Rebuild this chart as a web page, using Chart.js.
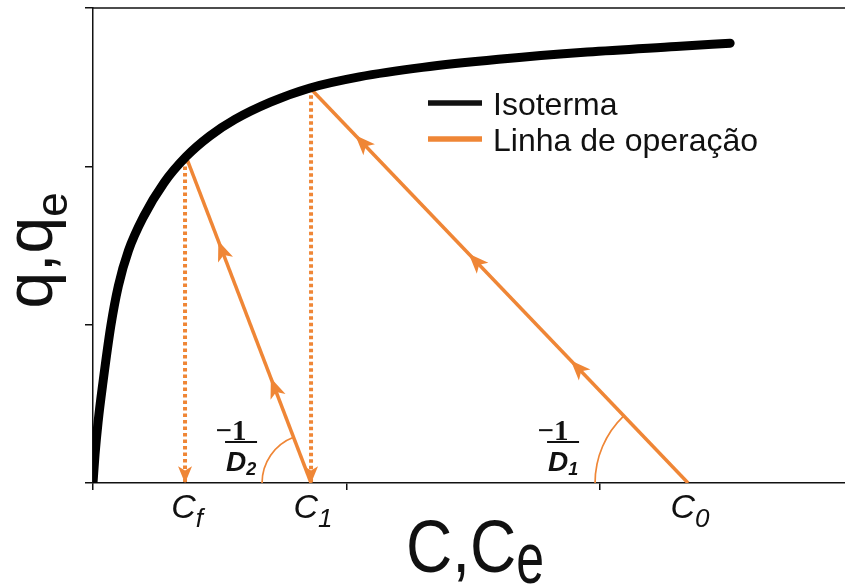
<!DOCTYPE html>
<html>
<head>
<meta charset="utf-8">
<script src="https://cdn.jsdelivr.net/npm/chart.js@4.4.0/dist/chart.umd.min.js"></script>
<style>
  html, body { margin: 0; padding: 0; background: #fff; }
  #wrap { width: 845px; height: 586px; }
</style>
</head>
<body>
<div id="wrap"><canvas id="chart" width="845" height="586"></canvas></div>
<script>
// ── DATA ────────────────────────────────────────────────────────────────────
// isotherm q_e(C_e)
const isoC = [0, 0.008, 0.02, 0.04, 0.07, 0.1, 0.14, 0.2, 0.28, 0.367, 0.46, 0.56, 0.7, 0.856, 1.05, 1.3, 1.6, 1.95, 2.3, 2.513];
const isoQ = [0, 0.18, 0.384, 0.644, 0.989, 1.244, 1.468, 1.684, 1.896, 2.061, 2.191, 2.296, 2.405, 2.495, 2.565, 2.625, 2.676, 2.722, 2.757, 2.778];

// concentrations marked under the axis
const concNames = ['C', 'C', 'C'];
const concSubs  = ['f', '1', '0'];
const concVals  = [0.363, 0.86, 2.347];

// operating lines: from the axis up to the isotherm
const op1C = [2.347, 0.856];
const op1Q = [0, 2.495];
const op2C = [0.86, 0.367];
const op2Q = [0, 2.061];

// dotted drops from the isotherm to the axis
const drop1C = [0.86, 0.86];
const drop1Q = [2.49, 0];
const drop2C = [0.363, 0.363];
const drop2Q = [2.04, 0];

// where the arrowheads sit along each operating line (fraction from the axis)
const op1Arrows = [0.29, 0.56, 0.86];
const op2Arrows = [0.29, 0.71];

const xTicks = [0, 1, 2];
const yTicks = [0, 1, 2, 3];
const legendNames = ['Isoterma', 'Linha de operação'];

const ORANGE = '#ef8636';
const INK = '#111';

const pts = (xs, ys) => xs.map((v, i) => ({ x: v, y: ys[i] }));

// ── HELPERS ─────────────────────────────────────────────────────────────────

/** Notched arrowhead centred at (cx, cy) pointing along (ux, uy). */
function head(ctx, cx, cy, ux, uy, len, half) {
  const nx = -uy, ny = ux;
  ctx.beginPath();
  ctx.moveTo(cx + ux * len * 0.55, cy + uy * len * 0.55);
  ctx.lineTo(cx - ux * len * 0.45 + nx * half, cy - uy * len * 0.45 + ny * half);
  ctx.lineTo(cx - ux * len * 0.2, cy - uy * len * 0.2);
  ctx.lineTo(cx - ux * len * 0.45 - nx * half, cy - uy * len * 0.45 - ny * half);
  ctx.closePath();
  ctx.fill();
}

/** Text with a subscript, group centred on cx. */
function subText(ctx, main, sub, cx, base, mainFont, subFont, drop) {
  ctx.font = mainFont;
  const w1 = ctx.measureText(main).width;
  ctx.font = subFont;
  const w2 = ctx.measureText(sub).width;
  const x0 = cx - (w1 + w2) / 2;
  ctx.textAlign = 'left';
  ctx.textBaseline = 'alphabetic';
  ctx.font = mainFont;
  ctx.fillText(main, x0, base);
  ctx.font = subFont;
  ctx.fillText(sub, x0 + w1, base + drop);
}

/** The −1/D fraction next to an angle arc. */
function fraction(ctx, cx, sub) {
  ctx.fillStyle = INK;
  ctx.textAlign = 'center';
  ctx.textBaseline = 'alphabetic';
  ctx.font = "bold 29px 'Liberation Serif', 'DejaVu Serif', serif";
  ctx.fillText('\u22121', cx - 10, 440);
  ctx.strokeStyle = INK;
  ctx.lineWidth = 1.8;
  ctx.beginPath();
  ctx.moveTo(cx - 16, 442);
  ctx.lineTo(cx + 16, 442);
  ctx.stroke();
  subText(ctx, 'D', sub, cx, 471,
    "italic bold 28px 'Liberation Sans', Arial, sans-serif",
    "italic bold 18px 'Liberation Sans', Arial, sans-serif", 4);
}

const decor = {
  id: 'decor',
  afterDatasetsDraw(chart) {
    const { ctx, chartArea: a, scales: { x, y } } = chart;
    ctx.save();

    // top spine
    ctx.strokeStyle = INK;
    ctx.lineWidth = 1.5;
    ctx.beginPath();
    ctx.moveTo(a.left, a.top);
    ctx.lineTo(a.right, a.top);
    ctx.stroke();

    // arrowheads along operating lines
    ctx.fillStyle = ORANGE;
    const along = (xs, ys, ts) => {
      const x0 = x.getPixelForValue(xs[0]), y0 = y.getPixelForValue(ys[0]);
      const x1 = x.getPixelForValue(xs[1]), y1 = y.getPixelForValue(ys[1]);
      const L = Math.hypot(x1 - x0, y1 - y0);
      const ux = (x1 - x0) / L, uy = (y1 - y0) / L;
      ts.forEach(t => head(ctx, x0 + (x1 - x0) * t, y0 + (y1 - y0) * t, ux, uy, 20, 8));
      return Math.atan2(y1 - y0, x1 - x0);
    };
    const ang1 = along(op1C, op1Q, op1Arrows);
    const ang2 = along(op2C, op2Q, op2Arrows);

    // arrowheads at the foot of the dotted drops
    [drop1C[1], drop2C[1]].forEach(c => {
      const tipX = x.getPixelForValue(c), tipY = y.getPixelForValue(0);
      head(ctx, tipX, tipY - 9, 0, 1, 17, 7);
    });

    // angle arcs
    ctx.strokeStyle = ORANGE;
    ctx.lineWidth = 1.7;
    const arc = (c, r, ang) => {
      const end = ang < 0 ? ang + 2 * Math.PI : ang;
      ctx.beginPath();
      ctx.arc(x.getPixelForValue(c), y.getPixelForValue(0), r, Math.PI, end);
      ctx.stroke();
    };
    arc(op2C[0], 49, ang2);
    arc(op1C[0], 93, ang1);

    fraction(ctx, x.getPixelForValue(op2C[0]) - 70, '2');
    fraction(ctx, x.getPixelForValue(op1C[0]) - 125, '1');

    // concentration labels under the axis
    ctx.fillStyle = INK;
    concVals.forEach((c, i) => {
      subText(ctx, concNames[i], concSubs[i], x.getPixelForValue(c) + 2, 518,
        "italic 34px 'Liberation Sans', Arial, sans-serif",
        "italic 26px 'Liberation Sans', Arial, sans-serif", 9);
    });

    // axis titles
    ctx.font = "64px 'Liberation Sans', Arial, sans-serif";
    const wC = ctx.measureText('C,C').width;
    ctx.font = "50px 'Liberation Sans', Arial, sans-serif";
    const wE = ctx.measureText('e').width;
    const xs = (a.left + a.right) / 2 + 6 - (wC + wE) / 2;
    ctx.save();
    ctx.translate(xs, 572);
    ctx.scale(1, 1.17);
    ctx.font = "64px 'Liberation Sans', Arial, sans-serif";
    ctx.textAlign = 'left';
    ctx.fillText('C,C', 0, 0);
    ctx.restore();
    ctx.save();
    ctx.translate(xs + wC, 583);
    ctx.scale(1, 1.45);
    ctx.font = "50px 'Liberation Sans', Arial, sans-serif";
    ctx.fillText('e', 0, 0);
    ctx.restore();

    ctx.save();
    ctx.translate(52, (a.top + a.bottom) / 2 + 5);
    ctx.rotate(-Math.PI / 2);
    ctx.font = "66px 'Liberation Sans', Arial, sans-serif";
    const wQ = ctx.measureText('q,q').width;
    ctx.font = "44px 'Liberation Sans', Arial, sans-serif";
    const wQe = ctx.measureText('e').width;
    ctx.textAlign = 'left';
    ctx.font = "66px 'Liberation Sans', Arial, sans-serif";
    ctx.fillText('q,q', -(wQ + wQe) / 2, 0);
    ctx.font = "44px 'Liberation Sans', Arial, sans-serif";
    ctx.fillText('e', -(wQ + wQe) / 2 + wQ, 15);
    ctx.restore();

    // legend
    const lx = a.left + 335, ly = a.top + 95;
    [INK, ORANGE].forEach((col, i) => {
      const yy = ly + i * 36;
      ctx.strokeStyle = col;
      ctx.lineWidth = 5.5;
      ctx.beginPath();
      ctx.moveTo(lx, yy);
      ctx.lineTo(lx + 54, yy);
      ctx.stroke();
      ctx.fillStyle = INK;
      ctx.font = "32px 'Liberation Sans', Arial, sans-serif";
      ctx.textAlign = 'left';
      ctx.textBaseline = 'alphabetic';
      ctx.fillText(legendNames[i], lx + 65, yy + 12);
    });

    ctx.restore();
  }
};

const orangeLine = (data) => ({
  data, borderColor: ORANGE, borderWidth: 3.5, pointRadius: 0, fill: false,
});
const dotted = (data) => ({
  data, borderColor: ORANGE, borderWidth: 4, borderDash: [3.5, 3], pointRadius: 0, fill: false,
});

new Chart(document.getElementById('chart'), {
  type: 'line',
  data: {
    datasets: [
      {
        label: legendNames[0],
        data: pts(isoC, isoQ),
        borderColor: '#000',
        borderWidth: 9,
        borderCapStyle: 'round',
        cubicInterpolationMode: 'monotone',
        pointRadius: 0,
        fill: false,
      },
      orangeLine(pts(op1C, op1Q)),
      orangeLine(pts(op2C, op2Q)),
      dotted(pts(drop1C, drop1Q)),
      dotted(pts(drop2C, drop2Q)),
    ],
  },
  options: {
    responsive: false,
    animation: false,
    events: [],
    layout: { padding: { top: 8, right: 0, left: 0, bottom: 0 } },
    plugins: { legend: { display: false }, tooltip: { enabled: false } },
    scales: {
      x: {
        type: 'linear',
        min: 0,
        max: 2.966,
        afterBuildTicks: s => { s.ticks = xTicks.map(v => ({ value: v })); },
        afterFit: s => { s.height = 103; },
        ticks: { display: false },
        grid: { drawOnChartArea: false, drawTicks: true, tickLength: 7, color: INK, lineWidth: 1.5 },
        border: { display: true, color: INK, width: 1.5 },
      },
      y: {
        type: 'linear',
        min: 0,
        max: 3,
        afterBuildTicks: s => { s.ticks = yTicks.map(v => ({ value: v })); },
        afterFit: s => { s.width = 93; },
        ticks: { display: false },
        grid: { drawOnChartArea: false, drawTicks: true, tickLength: 8, color: INK, lineWidth: 1.5 },
        border: { display: true, color: INK, width: 1.5 },
      },
    },
  },
  plugins: [decor],
});
</script>
</body>
</html>
